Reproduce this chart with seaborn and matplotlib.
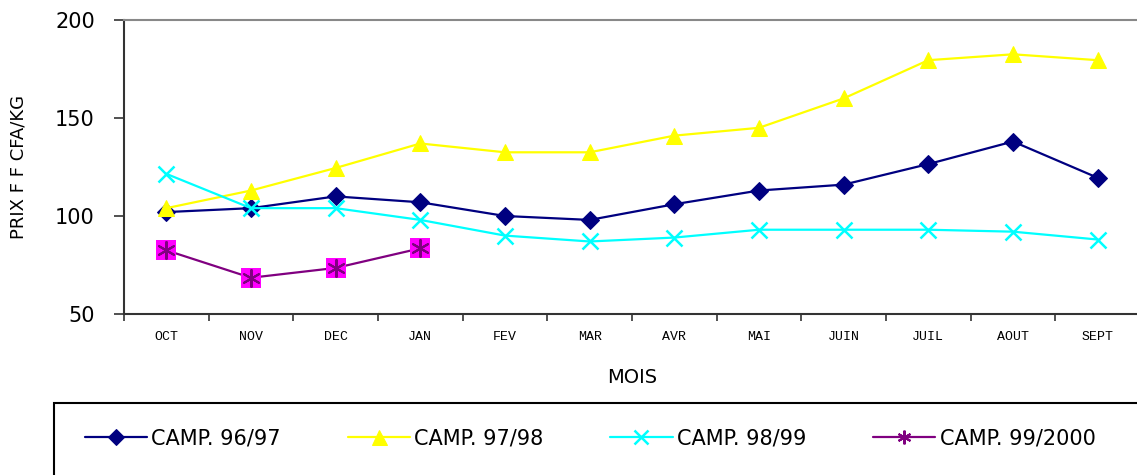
import numpy as np
import pandas as pd
import seaborn as sns
import matplotlib.pyplot as plt
from matplotlib.ticker import FixedLocator, NullFormatter
from matplotlib.patches import Rectangle

months = ["OCT", "NOV", "DEC", "JAN", "FEV", "MAR", "AVR", "MAI", "JUIN", "JUIL", "AOUT", "SEPT"]
camp_96_97 = [102, 104, 110, 107, 100, 98, 106, 113, 116, 126.5, 138, 119.5]
camp_97_98 = [104, 113, 124.5, 137, 132.5, 132.5, 141, 145, 160, 179.5, 182.5, 179.5]
camp_98_99 = [121.5, 104, 104, 98, 90, 87, 89, 93, 93, 93, 92, 88]
camp_99_2000 = [82.5, 68.5, 73.5, 83.5]

sns.set_theme(style="white")
plt.rcParams['font.family'] = ['DejaVu Sans']
plt.rcParams.update({"text.color": "black", "axes.labelcolor": "black",
                     "xtick.color": "black", "ytick.color": "black"})

fig = plt.figure(figsize=(11.37, 4.75), dpi=100)
ax = fig.add_axes([124 / 1137, 161 / 475, 1016 / 1137, 294 / 475])

lw = 1.6
sns.lineplot(x=months, y=camp_96_97, ax=ax, color="#000080", marker="D", markersize=9,
             markeredgecolor="#000080", linewidth=lw, label="CAMP. 96/97")
sns.lineplot(x=months, y=camp_97_98, ax=ax, color="#FFFF00", marker="^", markersize=12,
             markeredgecolor="#FFFF00", linewidth=lw, label="CAMP. 97/98")
sns.lineplot(x=months, y=camp_98_99, ax=ax, color="#00FFFF", marker="x", markersize=11,
             markeredgecolor="#00FFFF", markeredgewidth=1.8, linewidth=lw, label="CAMP. 98/99")
sns.lineplot(x=months[:4], y=camp_99_2000, ax=ax, color="#800080", marker=(6, 2, 0), markersize=11,
             markeredgecolor="#800080", markeredgewidth=1.5, linewidth=lw, label="CAMP. 99/2000", zorder=2)
ax.scatter(months[:4], camp_99_2000, marker="s", s=200, color="#FF00FF", zorder=3, linewidths=0)
ax.scatter(months[:4], camp_99_2000, marker=(6, 2, 0), s=150, color="#800080", zorder=4, linewidths=1.5)

ax.set_xlim(-0.5, 11.5)
ax.set_ylim(50, 200)
ax.set_yticks([50, 100, 150, 200])
ax.xaxis.set_major_locator(FixedLocator(np.arange(-0.5, 12, 1)))
ax.xaxis.set_major_formatter(NullFormatter())
ax.xaxis.set_minor_locator(FixedLocator(np.arange(12)))
ax.set_xticklabels(months, minor=True, family="Liberation Mono", fontsize=9.5)
ax.tick_params(axis="x", which="major", direction="out", length=5, width=1.2, color="#333333", bottom=True)
ax.tick_params(axis="x", which="minor", length=0, pad=12)
ax.tick_params(axis="y", direction="out", length=7, width=1.2, color="#333333", left=True, labelsize=15, pad=14)

for s in ["left", "bottom"]:
    ax.spines[s].set_color("#333333")
    ax.spines[s].set_linewidth(1.5)
ax.spines["top"].set_color("#888888")
ax.spines["top"].set_linewidth(1.5)
ax.spines["right"].set_visible(False)

ax.set_xlabel("MOIS", fontsize=14, labelpad=18)
ax.set_ylabel("PRIX F F CFA/KG", fontsize=13, labelpad=20)

fig.patches.append(Rectangle((54 / 1137, -0.1), 1.0, 0.1 + 72 / 475, transform=fig.transFigure,
                             fill=False, edgecolor="black", linewidth=1.5))
ax.get_legend().remove()
handles, labels = ax.get_legend_handles_labels()
fig.legend(handles, labels, loc="center left", bbox_to_anchor=(66 / 1137, 37 / 475), ncol=4,
           frameon=False, fontsize=15, handlelength=3.0, handletextpad=0.2, columnspacing=3.2,
           markerscale=0.9)

fig.savefig("out.png", dpi=100)
